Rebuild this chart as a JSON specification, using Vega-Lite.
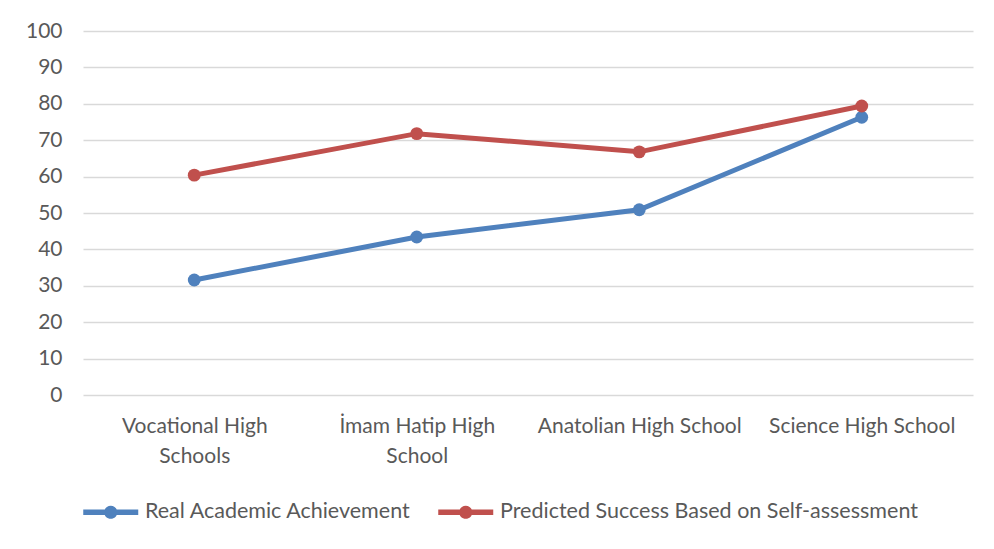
{
  "$schema": "https://vega.github.io/schema/vega-lite/v6.json",
  "autosize": {"type": "none"},
  "width": 890,
  "height": 364,
  "padding": {"left": 83, "top": 31, "right": 21, "bottom": 154},
  "background": "white",
  "data": {
    "values": [
      {"school": "Vocational High Schools", "series": "Real Academic Achievement", "value": 31.6},
      {"school": "İmam Hatip High School", "series": "Real Academic Achievement", "value": 43.4},
      {"school": "Anatolian High School", "series": "Real Academic Achievement", "value": 50.9},
      {"school": "Science High School", "series": "Real Academic Achievement", "value": 76.3},
      {"school": "Vocational High Schools", "series": "Predicted Success Based on Self-assessment", "value": 60.4},
      {"school": "İmam Hatip High School", "series": "Predicted Success Based on Self-assessment", "value": 71.8},
      {"school": "Anatolian High School", "series": "Predicted Success Based on Self-assessment", "value": 66.8},
      {"school": "Science High School", "series": "Predicted Success Based on Self-assessment", "value": 79.4}
    ]
  },
  "encoding": {
    "x": {
      "field": "school",
      "type": "nominal",
      "sort": null,
      "title": null,
      "axis": {
        "domain": false,
        "ticks": false,
        "grid": false,
        "labelAngle": 0,
        "labelPadding": 20,
        "labelLineHeight": 30,
        "labelOverlap": false,
        "labelLimit": 0,
        "labelExpr": "datum.value == 'Vocational High Schools' ? ['Vocational High', 'Schools'] : datum.value == 'İmam Hatip High School' ? ['İmam Hatip High', 'School'] : datum.value"
      }
    },
    "y": {
      "field": "value",
      "type": "quantitative",
      "title": null,
      "scale": {"domain": [0, 100], "nice": false},
      "axis": {
        "values": [0, 10, 20, 30, 40, 50, 60, 70, 80, 90, 100],
        "domain": false,
        "ticks": false,
        "labelPadding": 21,
        "gridColor": "#d9d9d9",
        "gridWidth": 1.5
      }
    },
    "color": {
      "field": "series",
      "type": "nominal",
      "sort": null,
      "title": null,
      "scale": {
        "domain": ["Real Academic Achievement", "Predicted Success Based on Self-assessment"],
        "range": ["#4f81bd", "#c0504d"]
      },
      "legend": {
        "orient": "bottom",
        "direction": "horizontal",
        "offset": 32,
        "symbolType": "M-1,-0.2H3V0.2H-1Z M1,-0.48A0.48,0.48 0 1,1 1,0.48A0.48,0.48 0 1,1 1,-0.48Z",
        "symbolSize": 756,
        "symbolStrokeWidth": 0,
        "symbolOpacity": 1,
        "labelFontSize": 21.5,
        "labelColor": "#595959",
        "labelLimit": 0,
        "columnPadding": 26,
        "labelOffset": 34,
        "encode": {
          "symbols": {
            "update": {
              "fill": {"scale": "color", "field": "value"},
              "fillOpacity": {"value": 1},
              "strokeWidth": {"value": 0}
            }
          }
        }
      }
    }
  },
  "layer": [
    {"mark": {"type": "line", "strokeWidth": 5}},
    {"mark": {"type": "point", "filled": true, "size": 165, "opacity": 1}}
  ],
  "config": {
    "font": "Lato",
    "view": {"stroke": null},
    "axis": {
      "labelFont": "Lato",
      "labelFontSize": 21,
      "labelColor": "#595959"
    },
    "legend": {"labelFont": "Lato"}
  }
}
